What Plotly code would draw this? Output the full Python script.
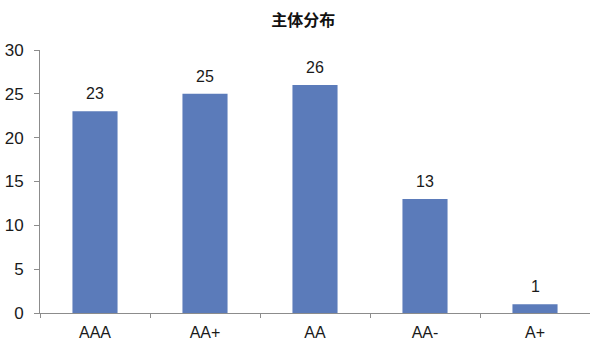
import plotly.graph_objects as go

categories = ["AAA", "AA+", "AA", "AA-", "A+"]
values = [23, 25, 26, 13, 1]
y_ticks = [0, 5, 10, 15, 20, 25, 30]

fig = go.Figure(go.Bar(
    x=categories, y=values,
    marker=dict(color="#5b7bba", line=dict(width=0)),
    width=0.41,
))

for c, v in zip(categories, values):
    fig.add_annotation(
        x=c, y=v, text=str(v), showarrow=False,
        yanchor="bottom", yshift=7,
        font=dict(family="Liberation Sans, Arial", size=16, color="#1a1a1a"),
    )

fig.update_layout(
    width=590, height=344,
    margin=dict(l=40, r=0, t=50, b=31, autoexpand=False),
    paper_bgcolor="white", plot_bgcolor="white",
    title=dict(text="<b>主体分布</b>", x=0.514, xanchor="center", y=0.942, yanchor="middle",
               font=dict(family="Noto Sans CJK SC", size=16, color="#111")),
    showlegend=False,
)
fig.update_xaxes(
    showline=True, linecolor="#8c8c8c", linewidth=1,
    ticks="outside", tickson="boundaries", ticklen=4, tickcolor="#8c8c8c",
    tickfont=dict(family="Liberation Sans, Arial", size=16, color="#1a1a1a"),
    ticklabelstandoff=5,
    showgrid=False, automargin=False,
)
fig.update_yaxes(
    range=[0, 30], tickvals=y_ticks,
    showline=True, linecolor="#8c8c8c", linewidth=1,
    ticks="outside", ticklen=5, tickcolor="#8c8c8c",
    tickfont=dict(family="Liberation Sans, Arial", size=17, color="#1a1a1a"),
    ticklabelstandoff=7,
    showgrid=False, zeroline=False, automargin=False,
)

fig.write_html(
    "out.html",
    config={"displayModeBar": False},
    post_script="document.body.style.margin='0';document.body.style.overflow='hidden';",
)
